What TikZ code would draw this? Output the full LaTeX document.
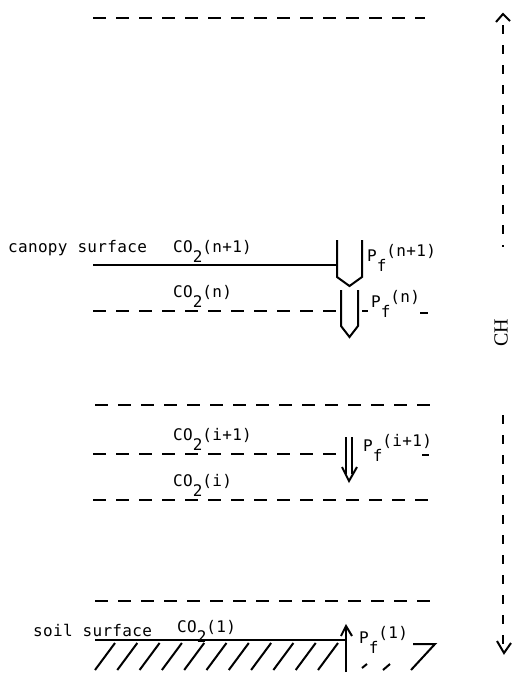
\documentclass[tikz,border=0pt]{standalone}
\usepackage{fontspec}
\newfontfamily\lblfont[LetterSpace=2]{DejaVu Sans Mono}
\newfontfamily\chfont{Liberation Serif}
\newcommand\cotwo[1]{CO\raisebox{-10pt}{2}#1}
\newcommand\pfl[1]{P\raisebox{-10pt}{f}\raisebox{5pt}{#1}}
\tikzset{
  lbl/.style={inner sep=0pt, anchor=base west, font={\lblfont\fontsize{16}{19}\selectfont}},
  dline/.style={line width=2.3pt, dash pattern=on 13pt off 10pt},
  sline/.style={line width=2.6pt},
  arr/.style={line width=2pt, line join=miter},
  hatch/.style={line width=2pt},
  axline/.style={line width=2pt, dash pattern=on 9pt off 11pt},
}
\begin{document}
\begin{tikzpicture}[x=1pt,y=-1pt]
\useasboundingbox (0,0) rectangle (513,673);
% top layer
\draw[dline] (93,18) -- (425,18);
% canopy surface
\node[lbl] (canopy) at (8,252) {canopy surface};
\node[lbl] (co1) at (173,252) {\cotwo{(n+1)}};
\draw[sline] (93,265) -- (337,265);
\draw[arr] (337,240) -- (337,277) -- (349.5,286) -- (362,277) -- (362,240);
\node[lbl] (pf1) at (367,261) {\pfl{(n+1)}};
% layer n
\node[lbl] (co2) at (173,297) {\cotwo{(n)}};
\draw[dline] (93,311) -- (341,311);
\draw[line width=2.3pt] (362,311) -- (368,311);
\draw[line width=2.3pt] (420,313) -- (428,313);
\draw[arr] (341,290) -- (341,326) -- (349.5,337) -- (358,326) -- (358,290);
\node[lbl] (pf2) at (371,307) {\pfl{(n)}};
% layers i+1, i
\draw[dline] (95,405) -- (430,405);
\node[lbl] (co3) at (173,440) {\cotwo{(i+1)}};
\draw[dline] (93,454) -- (336,454);
\draw[line width=2.3pt] (422,455) -- (429,455);
\draw[arr] (346,437) -- (346,474);
\draw[arr] (352,437) -- (352,474);
\draw[arr] (342,467) -- (349,481) -- (357,467);
\node[lbl] (pf3) at (363,451) {\pfl{(i+1)}};
\node[lbl] (co4) at (173,486) {\cotwo{(i)}};
\draw[dline] (93,500) -- (430,500);
% layer 1
\draw[dline] (95,601) -- (435,601);
\node[lbl] (soil) at (33,636) {soil surface};
\node[lbl] (co5) at (177,632) {\cotwo{(1)}};
\draw[sline] (95,640) -- (346,640);
\foreach \k in {0,...,10} {
  \draw[hatch] ({95+22.3*\k},670) -- ({115+22.3*\k},643);
}
\draw[arr] (346,672) -- (346,628);
\draw[arr] (341,636) -- (346,626) -- (352,636);
\node[lbl] (pf4) at (359,643) {\pfl{(1)}};
\draw[hatch] (413,644) -- (435,644) -- (411,670);
\draw[hatch] (362,668) -- (367,664);
\draw[hatch] (383,670) -- (390,664);
% CH axis
\draw[axline] (503,25) -- (503,247);
\draw[arr] (496,22) -- (503,14) -- (510,21);
\node[font={\chfont\fontsize{20}{24}\selectfont}, rotate=90, inner sep=0pt] (ch) at (501,333) {CH};
\draw[axline] (503,415) -- (503,645);
\draw[arr] (497,641) -- (504,653) -- (511,643);
\end{tikzpicture}
\end{document}
